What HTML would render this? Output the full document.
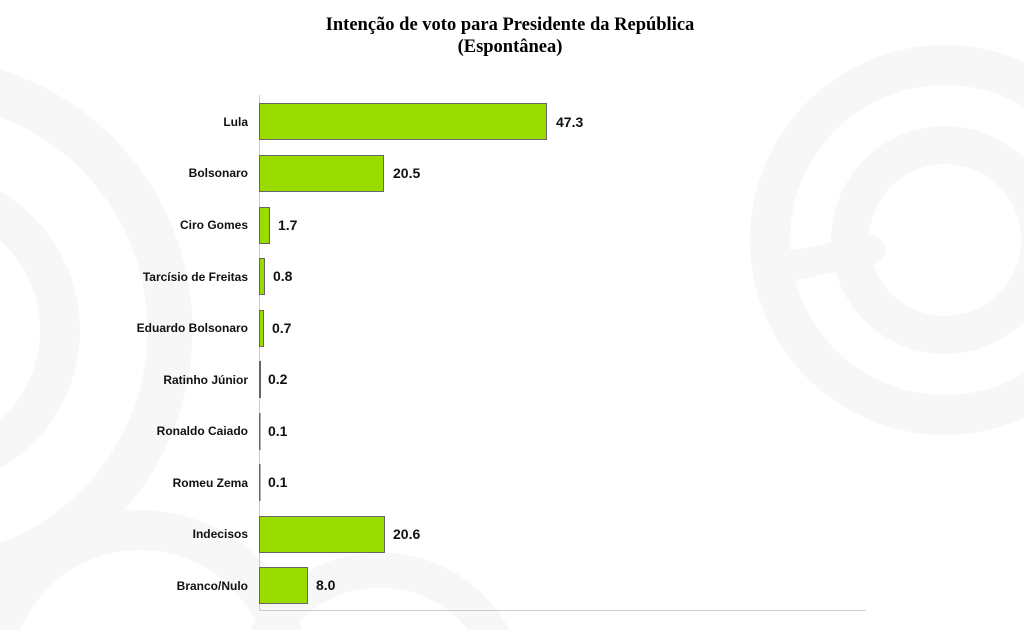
<!DOCTYPE html>
<html><head><meta charset="utf-8"><style>
html,body{margin:0;width:1024px;height:630px;background:#fff;overflow:hidden;position:relative}
svg{position:absolute;left:0;top:0;overflow:hidden;display:block}
</style></head><body>
<svg width="1024" height="630" viewBox="0 0 1024 630" xmlns="http://www.w3.org/2000/svg">
<g fill="none" stroke="#f7f7f7">
<circle cx="-80" cy="330" r="250" stroke-width="45"/>
<circle cx="-80" cy="330" r="140" stroke-width="40"/>
<circle cx="140" cy="680" r="150" stroke-width="40"/>
<circle cx="945" cy="240" r="175" stroke-width="40"/>
<circle cx="945" cy="240" r="95" stroke-width="38"/>
<line x1="770" y1="270" x2="870" y2="250" stroke-width="30" stroke-linecap="round"/>
<circle cx="380" cy="700" r="130" stroke-width="35"/>
</g>
<g font-family="Liberation Serif, serif" font-weight="bold" font-size="18.5" text-anchor="middle" fill="#000">
<text x="510" y="30">Intenção de voto para Presidente da República</text>
<text x="510" y="52">(Espontânea)</text>
</g>
<line x1="259.5" y1="95" x2="259.5" y2="611" stroke="#ccc"/>
<line x1="259" y1="610.5" x2="866" y2="610.5" stroke="#ccc"/>
<g font-family="Liberation Sans, sans-serif" font-weight="bold" fill="#111">
<g font-size="12" text-anchor="end">
<text x="248" y="126">Lula</text>
<text x="248" y="177">Bolsonaro</text>
<text x="248" y="229">Ciro Gomes</text>
<text x="248" y="281">Tarcísio de Freitas</text>
<text x="248" y="332">Eduardo Bolsonaro</text>
<text x="248" y="384">Ratinho Júnior</text>
<text x="248" y="435">Ronaldo Caiado</text>
<text x="248" y="487">Romeu Zema</text>
<text x="248" y="538">Indecisos</text>
<text x="248" y="590">Branco/Nulo</text>
</g>
<g fill="#9bdc00" stroke="#666" stroke-width="1">
<rect x="259.5" y="103.5" width="287" height="36"/>
<rect x="259.5" y="155.5" width="124" height="36"/>
<rect x="259.5" y="207.5" width="10" height="36"/>
<rect x="259.5" y="258.5" width="5" height="36"/>
<rect x="259.5" y="310.5" width="4" height="36"/>
<rect x="259.5" y="361.5" width="1" height="36"/>
<rect x="259.5" y="413.5" width="0.5" height="36"/>
<rect x="259.5" y="464.5" width="0.5" height="36"/>
<rect x="259.5" y="516.5" width="125" height="36"/>
<rect x="259.5" y="567.5" width="48" height="36"/>
</g>
<g font-size="14">
<text x="556" y="127">47.3</text>
<text x="393" y="178">20.5</text>
<text x="278" y="230">1.7</text>
<text x="273" y="281">0.8</text>
<text x="272" y="333">0.7</text>
<text x="268" y="384">0.2</text>
<text x="268" y="436">0.1</text>
<text x="268" y="487">0.1</text>
<text x="393" y="539">20.6</text>
<text x="316" y="590">8.0</text>
</g>
</g>
</svg>
</body></html>
